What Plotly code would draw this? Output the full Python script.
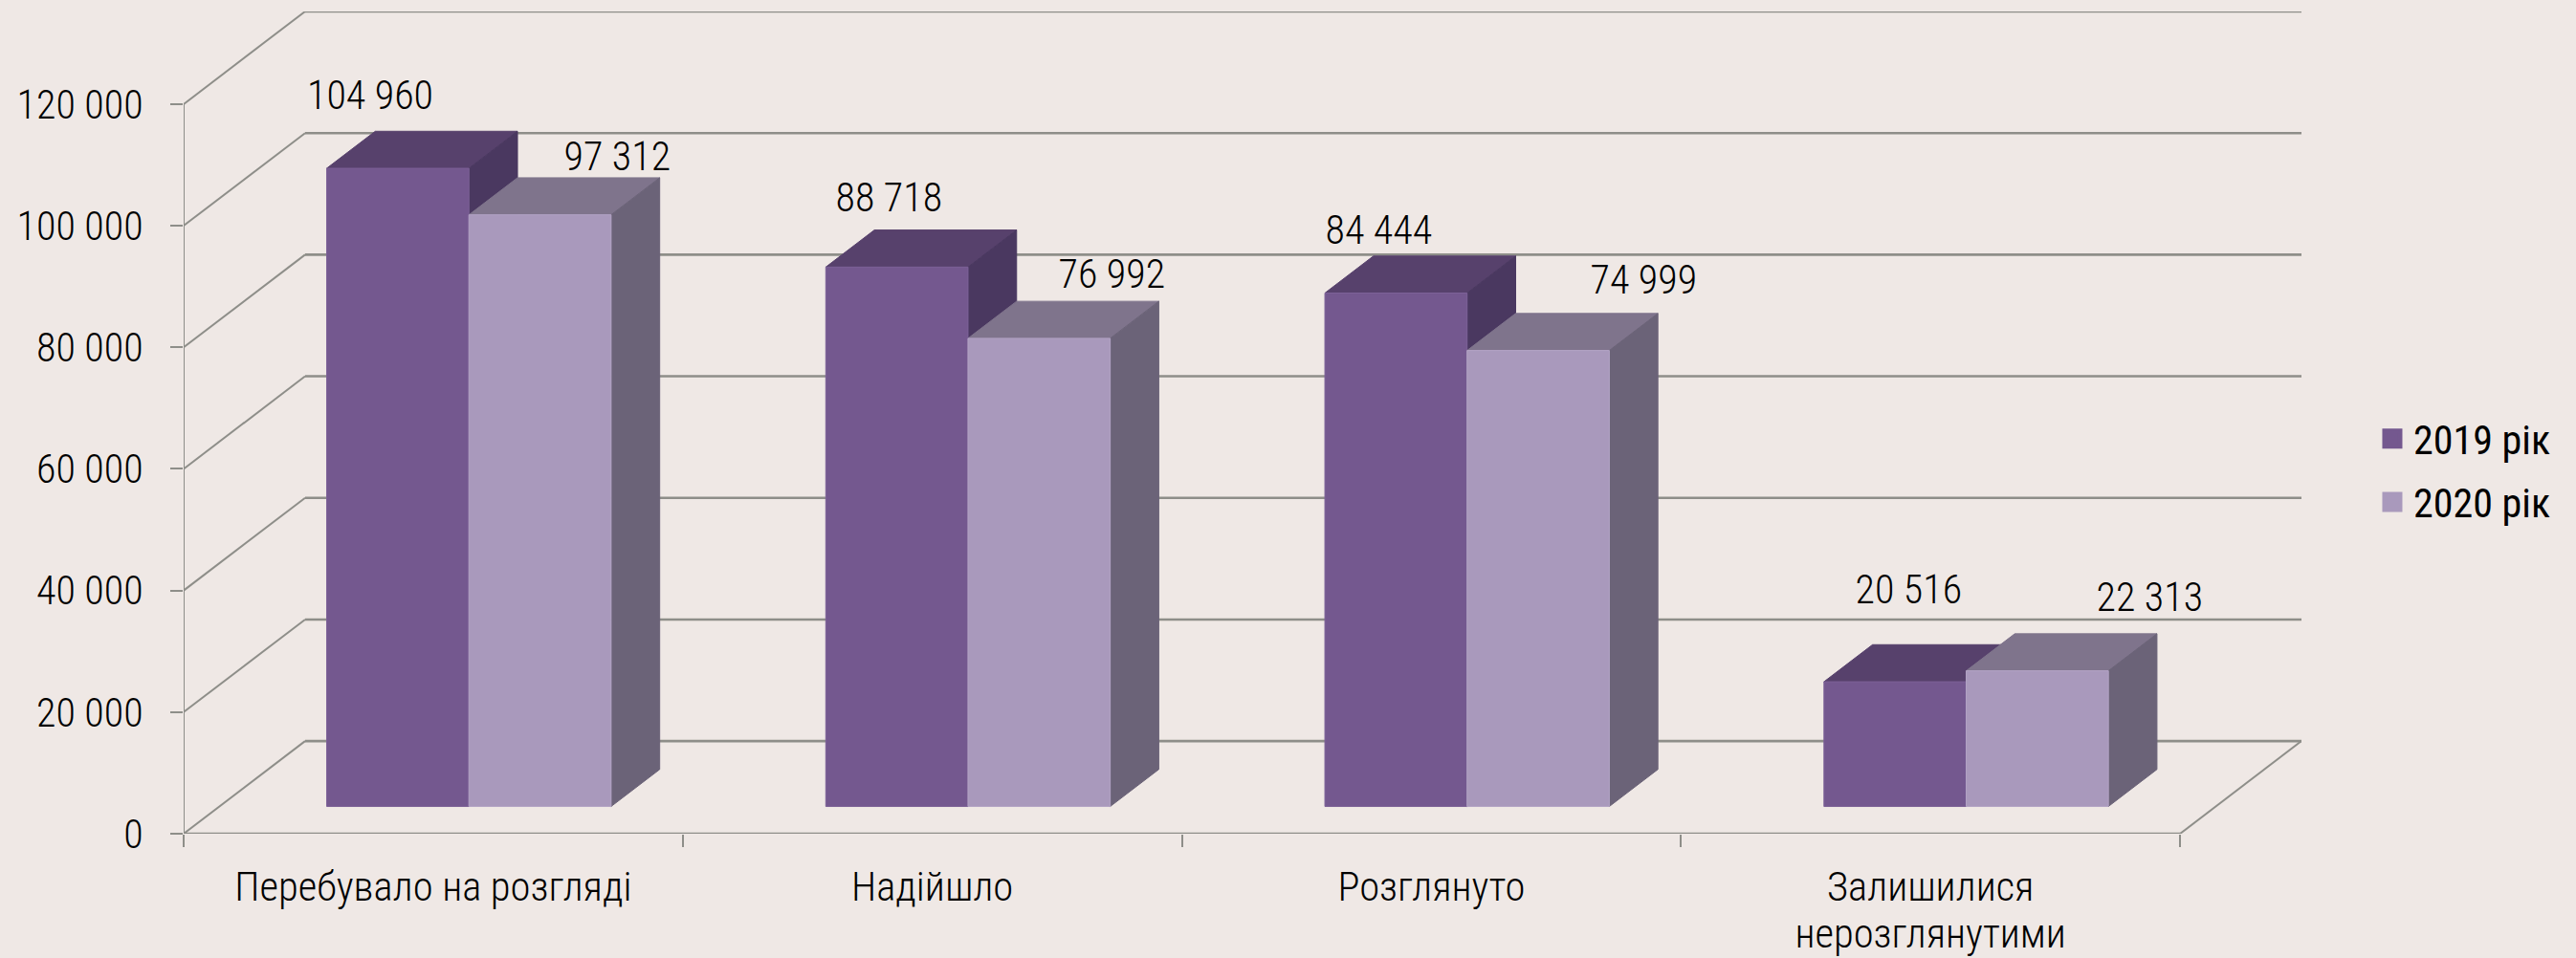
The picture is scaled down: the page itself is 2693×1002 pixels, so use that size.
import plotly.graph_objects as go

categories = ["Перебувало на розгляді", "Надійшло", "Розглянуто", "Залишилися<br>нерозглянутими"]
series_names = ["2019 рік", "2020 рік"]
values_2019 = [104960, 88718, 84444, 20516]
values_2020 = [97312, 76992, 74999, 22313]
y_ticks = [0, 20000, 40000, 60000, 80000, 100000, 120000]
y_tick_labels = ["0", "20 000", "40 000", "60 000", "80 000", "100 000", "120 000"]

# chart frame in pixels
W, H = 2693, 1002
L, R, T, B = 191.5, 2406, 11.5, 872.5
Y_TOP_FRONT = 108.5
X_FRONT_END = 2279
UNIT = (X_FRONT_END - L) / len(categories)
DEPTH_X = (R - X_FRONT_END) / UNIT
PX_PER_VALUE = (B - Y_TOP_FRONT) / 120000
DEPTH_Y = (Y_TOP_FRONT - T) / PX_PER_VALUE

BG = "#EFE8E5"
GRID = "#8E8E89"
FILL = [
    dict(front="#74588F", top="#57416C", side="#4A3860", edge="#7C6197"),
    dict(front="#A999BC", top="#7F748C", side="#6B6378", edge="#B3A4C5"),
]
BAR_W = 148.7 / UNIT
D0, D1 = 0.294, 0.694
FONT = "Roboto"

# label offsets from the top-front-centre of each bar, pixels
LABEL_DX = [[-29, -8, -18, 14], [81, 76, 110, 118]]
LABEL_DY = [[-77, -73, -66, -97], [-61, -67, -74, -77]]


def project(x, v, d):
    return x + d * DEPTH_X, v + d * DEPTH_Y


fig = go.Figure()


def add_line(points, width):
    fig.add_trace(go.Scatter(
        x=[p[0] for p in points], y=[p[1] for p in points], mode="lines",
        line=dict(color=GRID, width=width), hoverinfo="skip", showlegend=False))


n = len(categories)
add_line([project(0, 120000, 0), project(0, 0, 0)], 2)
add_line([project(n, 0, 0), project(n, 0, 1)], 2)
for v in y_ticks:
    add_line([project(0, v, 0), project(0, v, 1)], 2)
    add_line([project(0, v, 1), project(n, v, 1)], 2.6)
add_line([project(0, 0, 0), project(n, 0, 0)], 2.6)


def poly(points, color, edge=None):
    xs = [p[0] for p in points] + [points[0][0]]
    ys = [p[1] for p in points] + [points[0][1]]
    fig.add_trace(go.Scatter(
        x=xs, y=ys, mode="lines", fill="toself", fillcolor=color,
        line=dict(color=edge or color, width=1), hoverinfo="skip", showlegend=False))


all_values = [values_2019, values_2020]
annotations = []
for i in range(n):
    for s in range(2):
        v = all_values[s][i]
        c = FILL[s]
        x0 = i + 0.5 - BAR_W + s * BAR_W
        x1 = x0 + BAR_W
        poly([project(x0, v, D0), project(x0, v, D1), project(x1, v, D1), project(x1, v, D0)], c["top"])
        poly([project(x1, 0, D0), project(x1, 0, D1), project(x1, v, D1), project(x1, v, D0)], c["side"])
        poly([project(x0, 0, D0), project(x1, 0, D0), project(x1, v, D0), project(x0, v, D0)], c["front"], c["edge"])
        ax, ay = project((x0 + x1) / 2, v, D0)
        annotations.append(dict(
            x=ax, y=ay, xref="x", yref="y", text=f"{v:,}".replace(",", " "),
            showarrow=False, xanchor="center", yanchor="middle",
            xshift=LABEL_DX[s][i], yshift=-LABEL_DY[s][i],
            font=dict(family=FONT, size=42, color="#000000", weight=300)))

for s, name in enumerate(series_names):
    fig.add_trace(go.Scatter(
        x=[None], y=[None], mode="markers", name=name, legendgroup=name,
        marker=dict(symbol="square", size=16, color=FILL[s]["front"],
                    line=dict(color=FILL[s]["front"], width=5))))

fig.update_layout(
    width=W, height=H, autosize=False,
    paper_bgcolor=BG, plot_bgcolor=BG,
    margin=dict(l=L, r=W - R, t=T, b=H - B, pad=0, autoexpand=False),
    annotations=annotations,
    showlegend=True,
    legend=dict(x=(2479 - L) / (R - L), y=(B - 425) / (B - T), xanchor="left", yanchor="top",
                bgcolor="rgba(0,0,0,0)", font=dict(family=FONT, size=42, color="#000000"),
                itemwidth=34, tracegroupgap=8.5),
    xaxis=dict(
        range=[0, n + DEPTH_X], showgrid=False, zeroline=False, showline=False, automargin=False,
        tickmode="array", tickvals=[i + 0.5 for i in range(n)], ticktext=categories,
        ticks="", ticklen=0, tickangle=0, ticklabelstandoff=26,
        tickfont=dict(family=FONT, size=42.6, color="#000000", weight=300),
        minor=dict(tickmode="array", tickvals=list(range(n + 1)), ticks="outside",
                   ticklen=13, tickwidth=1.5, tickcolor=GRID, showgrid=False),
    ),
    yaxis=dict(
        range=[0, 120000 + DEPTH_Y], showgrid=False, zeroline=False, showline=False, automargin=False,
        tickmode="array", tickvals=y_ticks, ticktext=y_tick_labels,
        ticks="outside", ticklen=13, tickwidth=2, tickcolor=GRID, ticklabelstandoff=20,
        tickfont=dict(family=FONT, size=42, color="#000000", weight=300),
    ),
)

post = """
document.body.style.margin='0';
var s=document.createElement('style');
s.textContent='.main-svg text{font-stretch:condensed;font-variation-settings:"wdth" 80;}';
document.head.appendChild(s);
document.querySelectorAll('.xtick text tspan.line').forEach(function(t){
  if(parseFloat(t.getAttribute('dy'))>0){t.setAttribute('dy','1.17em');}
});
"""
fig.write_html("out.html", post_script=post, config=dict(displayModeBar=False))
